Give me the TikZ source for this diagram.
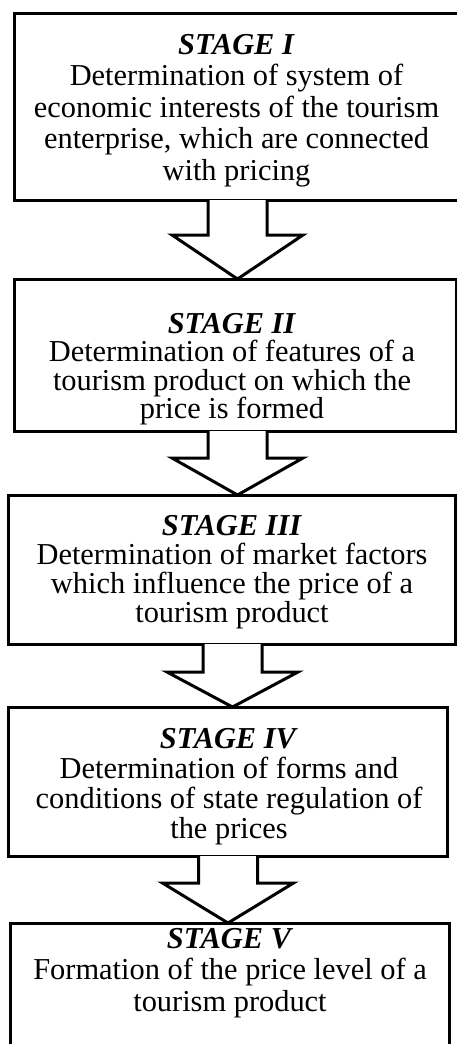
\documentclass[tikz,border=0pt]{standalone}
\usepackage{fontspec}
\setmainfont{Liberation Serif}
\usetikzlibrary{calc}
\tikzset{
  stagebox/.style={draw, line width=3pt, fill=white, inner sep=0pt, outer sep=0pt, anchor=north west},
  stagetext/.style={align=center, inner sep=0pt, outer sep=0pt, anchor=north},
  blockarrow/.style={draw, line width=3pt, fill=white, line join=miter},
}
\newcommand\stg[1]{\rule{0pt}{22pt}\textbf{\textit{#1}}}
\begin{document}
\begin{tikzpicture}[x=1pt,y=-1pt]
\useasboundingbox (0,0) rectangle (457,1044);
\clip (0,0) rectangle (457,1044);
% boxes
\node[stagebox, minimum width=452pt, minimum height=187pt] (b1) at (14,13) {};
\node[stagebox, minimum width=442pt, minimum height=152pt] (b2) at (14,279) {};
\node[stagebox, minimum width=447pt, minimum height=149pt] (b3) at (8,495) {};
\node[stagebox, minimum width=439pt, minimum height=149pt] (b4) at (8,707) {};
\node[stagebox, minimum width=439pt, minimum height=160pt] (b5) at (10,923) {};
% texts
\node[stagetext, font=\fontsize{30.4}{31.5}\selectfont] (t1) at (236.5,32) {\stg{STAGE I}\\Determination of system of\\economic interests of the tourism\\enterprise, which are connected\\with pricing};
\node[stagetext, font=\fontsize{30.4}{28.5}\selectfont] (t2) at (232,311) {\stg{STAGE II}\\Determination of features of a\\tourism product on which the\\price is formed};
\node[stagetext, font=\fontsize{30.4}{29.3}\selectfont] (t3) at (232,513) {\stg{STAGE III}\\Determination of market factors\\which influence the price of a\\tourism product};
\node[stagetext, font=\fontsize{30.4}{30}\selectfont] (t4) at (229,726) {\stg{STAGE IV}\\Determination of forms and\\conditions of state regulation of\\the prices};
\node[stagetext, font=\fontsize{30.4}{31.5}\selectfont] (t5) at (230,926) {\stg{STAGE V}\\Formation of the price level of a\\tourism product};
% block arrows: #1 from, #2 to, #3 centre x, #4 head start y
\newcommand\barrow[4]{%
  \draw[blockarrow] ({#3-29.5},0 |- #1.south) -- ({#3-29.5},#4) -- ({#3-65.5},#4)
    -- ({#3},0 |- #2.north) -- ({#3+65.5},#4) -- ({#3+29.5},#4) -- ({#3+29.5},0 |- #1.south);}
\barrow{b1}{b2}{237.5}{235}
\barrow{b2}{b3}{237.5}{458}
\barrow{b3}{b4}{232.5}{672}
\barrow{b4}{b5}{228}{883}
\end{tikzpicture}
\end{document}
